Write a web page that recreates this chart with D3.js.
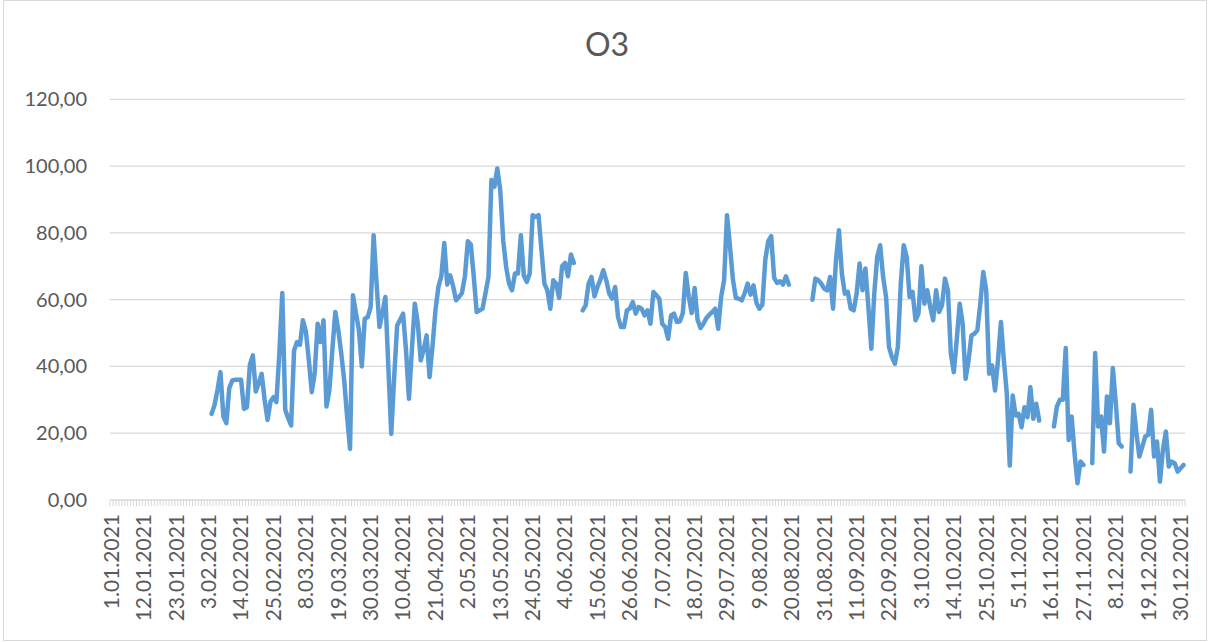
<!DOCTYPE html>
<html>
<head>
<meta charset="utf-8">
<script src="https://cdn.jsdelivr.net/npm/d3@7"></script>
<style>
  html, body { margin: 0; padding: 0; background: #ffffff; }
  svg { display: block; }
  text { font-family: Lato, "Open Sans", "Liberation Sans", sans-serif; fill: #595959; }
</style>
</head>
<body>
<svg id="chart" width="1208" height="642"></svg>
<script>
// ---------- DATA ----------
const title = "O3";
const dayCount = 365;
const xTickLabels = ["1.01.2021","12.01.2021","23.01.2021","3.02.2021","14.02.2021","25.02.2021","8.03.2021","19.03.2021","30.03.2021","10.04.2021","21.04.2021","2.05.2021","13.05.2021","24.05.2021","4.06.2021","15.06.2021","26.06.2021","7.07.2021","18.07.2021","29.07.2021","9.08.2021","20.08.2021","31.08.2021","11.09.2021","22.09.2021","3.10.2021","14.10.2021","25.10.2021","5.11.2021","16.11.2021","27.11.2021","8.12.2021","19.12.2021","30.12.2021"];
const yTicks = [0, 20, 40, 60, 80, 100, 120];
// daily O3 values, index 0 = 1.01.2021 (null = no measurement)
const o3 = [
  null,null,null,null,null,null,null,null,null,null,
  null,null,null,null,null,null,null,null,null,null,
  null,null,null,null,null,null,null,null,null,null,
  null,null,null,null,25.8,28.5,33,38.3,25,23,
  33.5,35.8,36,36,36,27.3,27.8,40.5,43.3,32.5,
  35,37.8,30,24,29.5,30.8,29.3,44,62,27,
  24.5,22.3,44.8,47.3,46.5,53.8,50.5,42,32.3,38,
  52.8,47.3,53.8,28,33,45,56.3,51,44,36,
  25,15.3,61.3,56,51,40,54.3,54.8,57.8,79.3,
  65,51.8,56,60.8,40,19.8,37,52.3,54,55.8,
  45,30.3,45,58.8,53,41.8,45,49.3,36.8,46,
  56.8,63.8,67,77,64.5,67.3,64,59.8,60.8,62,
  67,77.5,76.5,67,56.3,56.8,57.3,62,66.8,95.8,
  93.8,99.3,92.8,77.8,69.8,64.8,62.8,67.8,67.8,79.3,
  67.3,65.3,67.8,85.3,84.8,85.3,74.8,64.8,62.8,57.3,
  65.8,64.8,60.5,70,71,67,73.5,71,null,null,
  56.8,58.3,64.8,66.8,61,63.8,66,68.8,65.8,61.8,
  60.3,63.8,54.8,51.8,51.8,56.8,57.3,59.3,55.8,57.8,
  57.3,55.3,56.8,52.8,62.3,61.3,60.3,52.8,51.8,48.3,
  55.3,55.8,53.3,53.5,56,68,61,56,63.5,54,
  51.5,52.8,54.5,55.5,56.3,57.3,51.3,60.8,65.8,85.3,
  76,66,60.5,60.3,59.8,62,64.8,61.5,64.3,59,
  57.3,58.5,72,77.5,79,66.5,65,65.5,64.5,67,
  64.5,null,null,null,null,null,null,null,60,66.3,
  65.8,64.8,63.3,62.8,66.8,57.3,71.8,80.8,67.8,61.8,
  62.3,57.3,56.8,61.8,70.8,62.8,69.3,57.8,45.3,61.8,
  72.8,76.3,66.8,60.8,45.8,42.8,40.8,45.8,64.8,76.3,
  72.8,60.8,62.3,53.8,55.8,70,58.8,62.8,57.8,53.8,
  62.8,56.3,58.3,66.3,62.8,43.8,38.3,48,58.8,52.8,
  36.3,41.8,49.3,49.8,50.8,58.8,68.3,62.8,37.8,40.3,
  32.8,41.8,53.3,41.8,31.8,10.3,31.3,25.3,25.8,21.8,
  27.8,24.8,33.8,24.3,28.8,23.8,null,null,null,null,
  22,28,30,30,45.5,18,25,14,5,11.5,
  10.5,null,null,11,44,22,25,14.5,31,23,
  39.5,29,17,16,null,null,8.5,28.5,20,13,
  16,19,19.5,27,13,17.5,5.5,15,20.5,10,
  11.5,11,8.5,9.5,10.5
];

// ---------- LAYOUT ----------
const plot = { left: 110, right: 1185, top: 99.3, bottom: 500 };
const svg = d3.select("#chart");

// chart border
svg.append("rect")
  .attr("x", 3.5).attr("y", 0.5)
  .attr("width", 1203).attr("height", 640)
  .attr("fill", "#ffffff").attr("stroke", "#d9d9d9").attr("stroke-width", 1);

// scales
const idx = d3.range(dayCount);
const x = d3.scaleBand().domain(idx).range([plot.left, plot.right]).paddingInner(0).paddingOuter(0);
const xc = i => x(i) + x.bandwidth() / 2;
const y = d3.scaleLinear().domain([0, 120]).range([plot.bottom, plot.top]);

const loc = d3.formatLocale({ decimal: ",", thousands: " ", grouping: [3], currency: ["", ""] });
const fmt = loc.format(".2f");

// gridlines
svg.append("g").selectAll("line").data(yTicks.filter(t => t > 0)).join("line")
  .attr("x1", plot.left).attr("x2", plot.right)
  .attr("y1", d => y(d)).attr("y2", d => y(d))
  .attr("stroke", "#d9d9d9").attr("stroke-width", 1.3);

// y axis labels
const yAxis = d3.axisLeft(y).tickValues(yTicks).tickFormat(fmt).tickSize(0).tickPadding(0);
const yg = svg.append("g").attr("transform", `translate(${plot.left - 23},0)`).call(yAxis);
yg.select(".domain").remove();
yg.selectAll("text").attr("font-size", 20).attr("fill", "#595959")
  .style("font-family", "Lato, 'Open Sans', sans-serif");

// x axis line
svg.append("line")
  .attr("x1", plot.left).attr("x2", plot.right)
  .attr("y1", plot.bottom).attr("y2", plot.bottom)
  .attr("stroke", "#d9d9d9").attr("stroke-width", 1.3);

// tick marks between categories
const tickPos = idx.map(i => x(i)).concat([plot.right]);
svg.append("g").selectAll("line").data(tickPos).join("line")
  .attr("x1", d => d).attr("x2", d => d)
  .attr("y1", plot.bottom).attr("y2", plot.bottom + 6)
  .attr("stroke", "#d9d9d9").attr("stroke-width", 1);

// x axis labels (every 11th day)
const labelIdx = xTickLabels.map((_, k) => k * 11);
const xAxis = d3.axisBottom(x).tickValues(labelIdx).tickFormat((d, k) => xTickLabels[k]).tickSize(0);
const xg = svg.append("g").attr("transform", `translate(0,${plot.bottom})`).call(xAxis);
xg.select(".domain").remove();
xg.selectAll("text")
  .attr("font-size", 21).attr("fill", "#595959")
  .style("font-family", "Lato, 'Open Sans', sans-serif")
  .attr("text-anchor", "end")
  .attr("transform", "translate(0,14) rotate(-90)")
  .attr("x", 0).attr("y", 0).attr("dy", "0.35em");

// line
const line = d3.line()
  .defined(d => d != null)
  .x((d, i) => xc(i))
  .y(d => y(d));
svg.append("path")
  .datum(o3)
  .attr("d", line)
  .attr("fill", "none")
  .attr("stroke", "#5b9bd5")
  .attr("stroke-width", 4.5)
  .attr("stroke-linejoin", "round")
  .attr("stroke-linecap", "round");

// title
svg.append("text")
  .attr("x", 607).attr("y", 56)
  .attr("text-anchor", "middle")
  .attr("font-size", 32)
  .attr("fill", "#595959")
  .text(title);
</script>
</body>
</html>
